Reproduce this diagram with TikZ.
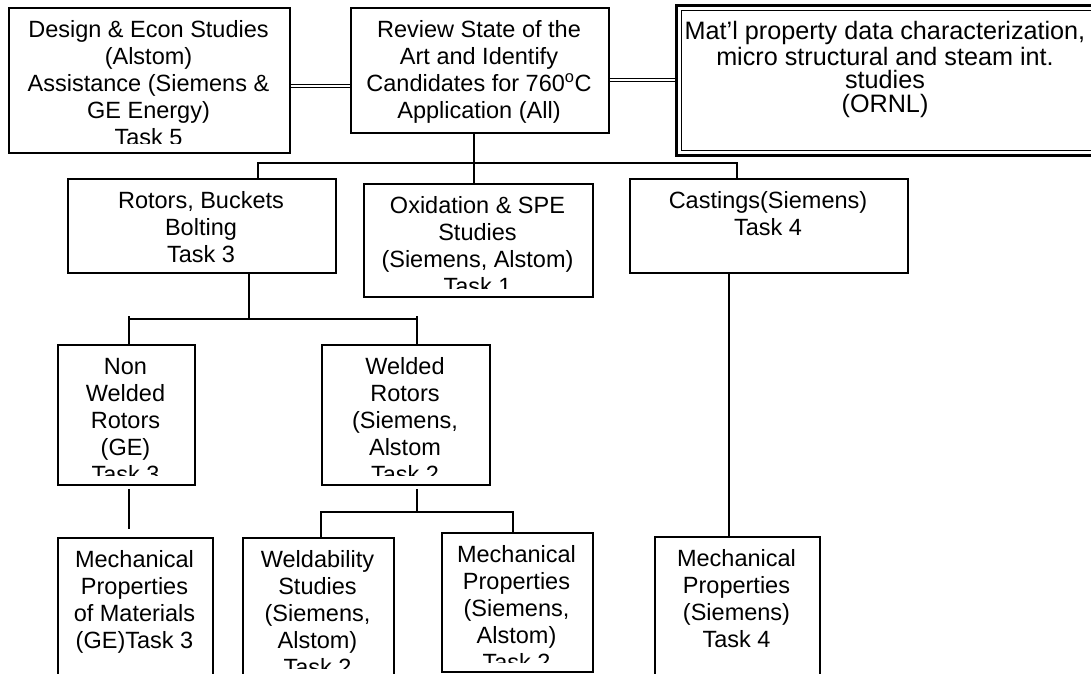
\documentclass[tikz,border=0pt]{standalone}
\usepackage{fontspec}
\setmainfont{Liberation Sans}
\newcommand\tbox[7]{%
  \node[box, minimum width={#4-#2}, minimum height={#5-#3}] (#1) at (#2,#3) {};
  \begin{scope}
    \clip (#2,#3) rectangle (#4,#6);
    \node[txt] (#1t) at ({(#2+#4)/2},{#3+11}) {\strut #7};
  \end{scope}}
\begin{document}
\begin{tikzpicture}[x=1pt,y=-1pt,
  box/.style={draw, line width=1.8pt, inner sep=0pt, anchor=north west},
  txt/.style={align=center, inner sep=0pt, anchor=north, font={\fontsize{23.5}{27}\selectfont}},
  bigtxt/.style={align=center, inner sep=0pt, anchor=north, font={\fontsize{25.2}{23.2}\selectfont}},
  conn/.style={line width=1.8pt},
  dbl/.style={double, double distance=2pt, line width=1.2pt}]
\clip (0,0) rectangle (1091,673);
\fill[white] (0,0) rectangle (1091,673);

% top row
\tbox{A}{8}{7}{289}{152}{143}{Design \& Econ Studies\\(Alstom)\\Assistance (Siemens \&\\GE Energy)\\Task 5}
\tbox{B}{350}{7}{608}{132}{132}{Review State of the\\Art and Identify\\Candidates for 760\textsuperscript{o}C\\Application (All)}
\node[draw, line width=2.6pt, inner sep=0pt, anchor=north west, minimum width=425, minimum height=150] (C) at (675,4) {};
\draw[line width=1pt] ([shift={(6,6)}]C.north west) rectangle ([shift={(-6,-6)}]C.south east);
\node[bigtxt] (Ct) at (885,21) {\strut Mat’l property data characterization,\\micro structural and steam int.\\studies\\(ORNL)};

% second row
\tbox{D}{67}{178}{335}{272}{272}{Rotors, Buckets\\Bolting\\Task 3}
\tbox{E}{363}{183}{592}{296}{288}{Oxidation \& SPE\\Studies\\(Siemens, Alstom)\\Task 1}
\tbox{F}{629}{178}{907}{272}{272}{Castings(Siemens)\\Task 4}

% third row
\tbox{G}{57}{344}{194}{484}{475}{Non\\Welded\\Rotors\\(GE)\\Task 3}
\tbox{H}{321}{344}{489}{484}{475}{Welded\\Rotors\\(Siemens,\\Alstom\\Task 2}

% bottom row
\tbox{I}{57}{537}{212}{690}{690}{Mechanical\\Properties\\of Materials\\(GE)Task 3}
\tbox{J}{242}{537}{393}{690}{668}{Weldability\\Studies\\(Siemens,\\Alstom)\\Task 2}
\tbox{K}{441}{532}{592}{671}{662}{Mechanical\\Properties\\(Siemens,\\Alstom)\\Task 2}
\tbox{L}{654}{536}{819}{690}{690}{Mechanical\\Properties\\(Siemens)\\Task 4}

% helper coordinates
\coordinate (yAB) at (0,86);
\coordinate (yBC) at (0,80);
\coordinate (t1) at (474,163);
\coordinate (bL) at (258,163);
\coordinate (bR) at (737,163);
\coordinate (c2) at (249,319);
\coordinate (c2L) at (129,319);
\coordinate (c2R) at (417,319);
\coordinate (c4) at (417,512);
\coordinate (c4L) at (321,512);
\coordinate (c4R) at (513,512);
\coordinate (c5) at (729,400);

% connectors
\draw[dbl] (A.east |- yAB) -- (B.west |- yAB);
\draw[dbl] (B.east |- yBC) -- (C.west |- yBC);
\draw[conn] (B.south -| t1) -- (E.north -| t1);
\draw[conn] (D.north -| bL) -- (bL) -- (bR) -- (F.north -| bR);
\draw[conn] (D.south -| c2) -- (c2);
\draw[conn] (G.north -| c2L) -- ([yshift=3pt]c2L);
\draw[conn] (H.north -| c2R) -- ([yshift=3pt]c2R);
\draw[conn] (c2L) -- (c2R);
\draw[conn, shorten <=3pt, shorten >=8pt] (G.south -| c2L) -- (I.north -| c2L);
\draw[conn, shorten <=3pt] (H.south -| c4) -- (c4);
\draw[conn] (J.north -| c4L) -- (c4L) -- (c4R) -- (K.north -| c4R);
\draw[conn] (F.south -| c5) -- (L.north -| c5);
\end{tikzpicture}
\end{document}
